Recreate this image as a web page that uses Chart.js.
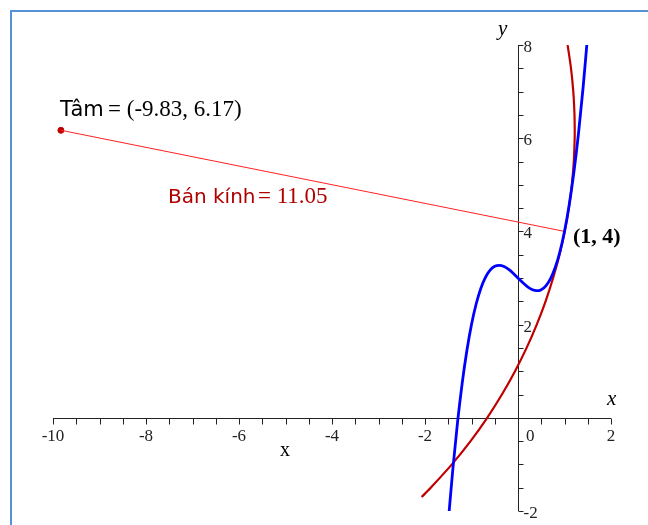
<!DOCTYPE html>
<html>
<head>
<meta charset="utf-8">
<script src="https://cdn.jsdelivr.net/npm/chart.js@4"></script>
<style>
  body { margin: 0; background: #fff; overflow: hidden; }
  .frame { position: absolute; left: 10px; top: 10px; width: 700px; height: 600px;
           border-left: 2px solid #5592d6; border-top: 2px solid #5592d6; }
  #plot { position: absolute; left: 0; top: 0; }
</style>
</head>
<body>
<div class="frame"></div>
<canvas id="plot" width="648" height="525"></canvas>
<script>
// values
const curveX = [-1.48, -1.4, -1.3, -1.2, -1.1, -1.0, -0.9, -0.8, -0.7, -0.6, -0.5, -0.4, -0.3, -0.2, -0.1,
  0, 0.1, 0.2, 0.3, 0.4, 0.5, 0.6, 0.7, 0.8, 0.9, 1.0, 1.1, 1.2, 1.3, 1.4, 1.48];
const curveY = [-2.0, -1.088, -0.094, 0.744, 1.438, 2.0, 2.442, 2.776, 3.014, 3.168, 3.25, 3.272, 3.246, 3.184, 3.098,
  3.0, 2.902, 2.816, 2.754, 2.728, 2.75, 2.832, 2.986, 3.224, 3.558, 4.0, 4.562, 5.256, 6.094, 7.088, 8.0];

// osculating circle arc
const arcX = [-2.073, -1.876, -1.422, -1.02, -0.663, -0.346, -0.064, 0.185, 0.403, 0.593, 0.755, 0.893, 1.005,
  1.093, 1.158, 1.2, 1.219, 1.22, 1.215, 1.189, 1.14, 1.067];
const arcY = [-1.7, -1.5, -1.0, -0.5, 0, 0.5, 1.0, 1.5, 2.0, 2.5, 3.0, 3.5, 4.0,
  4.5, 5.0, 5.5, 6.0, 6.17, 6.5, 7.0, 7.5, 8.0];

const center = [-9.83, 6.17];
const touchPoint = [1, 4];

const xTickValues = [-10, -8, -6, -4, -2, 0, 2];
const xTickLabels = ['-10', '-8', '-6', '-4', '-2', '0', '2'];
const yTickValues = [-2, 2, 4, 6, 8];
const yTickLabels = ['-2', '2', '4', '6', '8'];

const pts = (xs, ys) => xs.map((x, i) => ({ x: x, y: ys[i] }));

const SERIF = '"Liberation Serif", "Times New Roman", serif';
const SANS = '"DejaVu Sans", Verdana, sans-serif';

// Maple style axes crossing at the origin
const axesPlugin = {
  id: 'mapleAxes',
  beforeDatasetsDraw(chart) {
    const ctx = chart.ctx;
    const xs = chart.scales.x, ys = chart.scales.y;
    const x0 = Math.round(xs.getPixelForValue(0)) + 0.5;
    const y0 = Math.round(ys.getPixelForValue(0)) + 0.5;
    ctx.save();
    ctx.strokeStyle = '#222';
    ctx.lineWidth = 1;
    ctx.beginPath();
    ctx.moveTo(xs.getPixelForValue(-10), y0);
    ctx.lineTo(xs.getPixelForValue(2), y0);
    ctx.moveTo(x0, ys.getPixelForValue(-2));
    ctx.lineTo(x0, ys.getPixelForValue(8));
    for (let v = -10; v <= 2; v += 0.5) {
      const px = Math.round(xs.getPixelForValue(v)) + 0.5;
      ctx.moveTo(px, y0);
      ctx.lineTo(px, y0 + 6);
    }
    for (let v = -2; v <= 8; v += 0.5) {
      const py = Math.round(ys.getPixelForValue(v)) + 0.5;
      ctx.moveTo(x0, py);
      ctx.lineTo(x0 + 5, py);
    }
    ctx.stroke();

    ctx.fillStyle = '#222';
    ctx.font = '17px ' + SERIF;
    ctx.textBaseline = 'alphabetic';
    xTickValues.forEach((v, i) => {
      const px = xs.getPixelForValue(v);
      if (v === 0) {
        ctx.textAlign = 'left';
        ctx.fillText(xTickLabels[i], px + 8, y0 + 22);
      } else {
        ctx.textAlign = 'center';
        ctx.fillText(xTickLabels[i], px, y0 + 22);
      }
    });
    ctx.textAlign = 'left';
    yTickValues.forEach((v, i) => {
      ctx.fillText(yTickLabels[i], x0 + 5, ys.getPixelForValue(v) + 7);
    });
    ctx.restore();
  },
  afterDraw(chart) {
    const ctx = chart.ctx;
    ctx.save();
    ctx.textBaseline = 'alphabetic';
    ctx.textAlign = 'left';
    ctx.fillStyle = '#000';

    ctx.font = 'italic 21px ' + SERIF;
    ctx.fillText('x', 607, 405);
    ctx.fillText('y', 498, 35);
    ctx.font = '20px ' + SERIF;
    ctx.fillText('x', 280, 456);

    ctx.font = '21px ' + SANS;
    ctx.fillText('Tâm', 60, 116);
    ctx.font = '23px ' + SERIF;
    ctx.fillText('= (-9.83, 6.17)', 108, 116);

    ctx.fillStyle = '#b00000';
    ctx.font = '20px ' + SANS;
    ctx.fillText('Bán kính', 168, 203);
    ctx.font = '23px ' + SERIF;
    ctx.fillText('= 11.05', 258, 203);

    ctx.fillStyle = '#000';
    ctx.font = 'bold 22px ' + SERIF;
    ctx.fillText('(1, 4)', 573, 243);
    ctx.restore();
  }
};

new Chart(document.getElementById('plot'), {
  type: 'scatter',
  data: {
    datasets: [
      {
        data: pts(curveX, curveY),
        showLine: true,
        borderColor: '#0000ff',
        borderWidth: 2.8,
        pointRadius: 0,
        cubicInterpolationMode: 'monotone'
      },
      {
        data: pts(arcX, arcY),
        showLine: true,
        borderColor: '#c00000',
        borderWidth: 2.2,
        pointRadius: 0,
        tension: 0.3
      },
      {
        data: pts([center[0], touchPoint[0]], [center[1], touchPoint[1]]),
        showLine: true,
        borderColor: '#ff2020',
        borderWidth: 1,
        pointRadius: 0
      },
      {
        data: pts([center[0]], [center[1]]),
        showLine: false,
        backgroundColor: '#c00000',
        borderColor: '#c00000',
        pointRadius: 3
      }
    ]
  },
  options: {
    responsive: false,
    animation: false,
    layout: { padding: { left: 53, right: 37, top: 45, bottom: 14 } },
    scales: {
      x: { type: 'linear', min: -10, max: 2, display: false },
      y: { type: 'linear', min: -2, max: 8, display: false }
    },
    plugins: { legend: { display: false }, tooltip: { enabled: false } }
  },
  plugins: [axesPlugin]
});
</script>
</body>
</html>
